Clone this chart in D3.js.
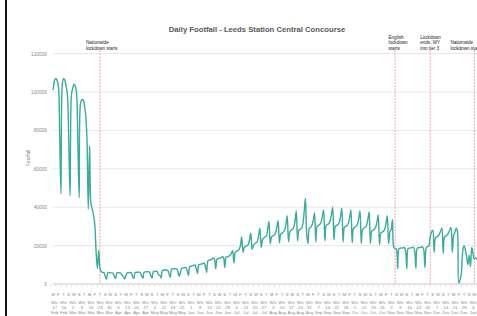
<!DOCTYPE html>
<html>
<head>
<meta charset="utf-8">
<script src="https://cdn.jsdelivr.net/npm/d3@7"></script>
<style>
  body { margin: 0; background: #fff; }
  svg { display: block; font-family: "Liberation Sans", Arial, sans-serif; }
</style>
</head>
<body>
<script>
// first day of the series (Monday 17 Feb 2020), one value per day
const startDate = new Date(2020, 1, 17);

// daily footfall, one row per week (Mon..Sun)
const footfall = [
  101000, 106000, 107000, 106000, 103000, 76000, 47000,
  104000, 107000, 106000, 103000, 98000, 73000, 46000,
  98000, 102000, 104000, 103000, 99000, 72000, 45000,
  94000, 96000, 96000, 93000, 88000, 75000, 39000,
  72000, 42000, 39000, 36000, 31000, 17000, 8000,
  17500, 8000, 6500, 6000, 6000, 4000, 2500,
  6000, 6000, 5800, 5800, 5600, 4000, 2800,
  5800, 5900, 5800, 5700, 4500, 3800, 2600,
  4500, 5800, 5900, 6000, 5800, 4000, 2800,
  6000, 6100, 6100, 6200, 6000, 4300, 3000,
  6200, 6300, 6300, 6400, 6200, 4500, 3100,
  6400, 6500, 6600, 6500, 4800, 4600, 3200,
  7000, 7200, 7400, 7300, 7200, 5400, 3600,
  7600, 7800, 7900, 8000, 7900, 6200, 4000,
  6500, 8200, 8400, 8500, 8600, 7000, 4500,
  9000, 9300, 9500, 9700, 9900, 8200, 5500,
  10000, 10200, 10400, 10600, 11000, 9500, 6000,
  12000, 12500, 12600, 12800, 13500, 13000, 8000,
  13000, 13200, 13400, 13600, 14200, 13800, 8500,
  14000, 14200, 14500, 14800, 15800, 17500, 11000,
  16500, 17000, 17500, 18000, 20000, 24500, 16500,
  19000, 19500, 20000, 20500, 23000, 26500, 18000,
  20000, 21000, 21500, 22000, 25500, 29000, 19000,
  23000, 24000, 24500, 25000, 28500, 32500, 21000,
  24500, 25000, 25500, 26500, 29500, 33000, 21500,
  26000, 26500, 27000, 28000, 31000, 35500, 22000,
  27000, 28000, 28500, 29500, 32500, 38000, 22500,
  28000, 28500, 29000, 31000, 37000, 44500, 26000,
  21000, 29000, 29500, 30500, 33000, 37000, 22000,
  30000, 30500, 31000, 32000, 35000, 38500, 22500,
  30500, 31000, 31500, 33000, 36000, 40000, 23000,
  30000, 30500, 31000, 32000, 35000, 39500, 22000,
  29500, 30000, 30500, 31500, 34500, 38500, 21500,
  29000, 29500, 30000, 31000, 34000, 38000, 21000,
  28500, 29000, 29500, 30500, 33500, 37500, 21000,
  27500, 28000, 28500, 29500, 32000, 36000, 20500,
  26500, 27000, 27500, 28500, 31500, 35500, 21000,
  27000, 28500, 33500, 19000, 18500, 18000, 8000,
  18500, 18700, 18700, 18800, 19000, 17500, 8000,
  18500, 18700, 18800, 18900, 19200, 17500, 8200,
  18700, 18900, 19000, 19100, 19500, 18000, 8500,
  19000, 19500, 20000, 24500, 27000, 28000, 16500,
  24000, 24500, 25000, 26000, 27500, 29000, 16000,
  24500, 25000, 25500, 26500, 28000, 29500, 16500,
  25000, 27000, 29000, 27000, 500, 2000, 6000,
  17000, 20000, 18000, 14000, 10000, 15000, 9000,
  19000, 15500, 13000, 13500, 13000, 11000, 6000
];

const yTicks = [0, 20000, 40000, 60000, 80000, 100000, 120000];
const dayLetters = ["M", "T", "W", "T", "F", "S", "S"];
const monthNames = ["Jan", "Feb", "Mar", "Apr", "May", "Jun", "Jul", "Aug", "Sep", "Oct", "Nov", "Dec"];

const lockdownDates = [new Date(2020, 2, 23), new Date(2020, 10, 5), new Date(2020, 11, 2), new Date(2021, 0, 5)];
const lockdownLabels = [
  ["Nationwide", "lockdown starts"],
  ["English", "lockdown", "starts"],
  ["Lockdown", "ends, WY", "into tier 3"],
  ["Nationwide", "lockdown starts"]
];

const W = 477, H = 316;
const dayPx = 1.3, left = 53.2;
const nDays = footfall.length;
const dayMs = 86400000;
const dayIndex = d => Math.round((d - startDate) / dayMs);
const dateOf = i => new Date(startDate.getTime() + i * dayMs);

const svg = d3.select("body").append("svg")
  .attr("width", W)
  .attr("height", H);

svg.append("rect").attr("width", W).attr("height", H).attr("fill", "#fff");

const x = d3.scaleLinear()
  .domain([0, nDays - 1])
  .range([left, left + dayPx * (nDays - 1)]);

const y = d3.scaleLinear()
  .domain([0, 120000])
  .range([284, 53.5]);

// gridlines
svg.append("g")
  .selectAll("line")
  .data(yTicks)
  .join("line")
    .attr("x1", 53)
    .attr("x2", W)
    .attr("y1", d => y(d))
    .attr("y2", d => y(d))
    .attr("stroke", d => d === 0 ? "#bfbfbf" : "#e3e3e3")
    .attr("stroke-width", 0.8);

// y axis labels
const yAxis = svg.append("g")
  .attr("transform", "translate(50,0)")
  .call(d3.axisLeft(y).tickValues(yTicks).tickSize(0).tickFormat(d3.format("d")));
yAxis.select(".domain").remove();
yAxis.selectAll("text")
  .attr("fill", "#8a8a8a")
  .style("font-size", "4.8px");

svg.append("text")
  .attr("transform", "translate(29.5,158) rotate(-90)")
  .attr("text-anchor", "middle")
  .attr("fill", "#7a7a7a")
  .style("font-size", "5px")
  .text("Footfall");

// title
svg.append("text")
  .attr("x", 257)
  .attr("y", 31.5)
  .attr("text-anchor", "middle")
  .attr("fill", "#595959")
  .style("font-size", "7.7px")
  .style("font-weight", "bold")
  .text("Daily Footfall - Leeds Station Central Concourse");

// x axis: tick marks and day letters every 4 days, week labels every Monday
const dayTicks = d3.range(0, nDays, 4);
svg.append("g")
  .selectAll("line")
  .data(dayTicks)
  .join("line")
    .attr("x1", d => x(d) - 2.6)
    .attr("x2", d => x(d) - 2.6)
    .attr("y1", 284)
    .attr("y2", 287)
    .attr("stroke", "#d0d0d0")
    .attr("stroke-width", 0.6);

svg.append("g")
  .selectAll("text")
  .data(dayTicks)
  .join("text")
    .attr("x", d => x(d))
    .attr("y", 296)
    .attr("text-anchor", "middle")
    .attr("fill", "#8a8a8a")
    .style("font-size", "4.3px")
    .text(d => dayLetters[(dateOf(d).getDay() + 6) % 7]);

const weekStarts = d3.range(0, nDays, 7);
const weekLbl = svg.append("g")
  .selectAll("text")
  .data(weekStarts)
  .join("text")
    .attr("text-anchor", "middle")
    .attr("fill", "#8a8a8a")
    .style("font-size", "4.3px");
weekLbl.append("tspan").attr("x", d => x(d) + 1.5).attr("y", 304).text("W/c");
weekLbl.append("tspan").attr("x", d => x(d) + 1.5).attr("y", 309).text(d => dateOf(d).getDate());
weekLbl.append("tspan").attr("x", d => x(d) + 1.5).attr("y", 314).text(d => monthNames[dateOf(d).getMonth()]);

// lockdown markers, drawn at the close of the day; labels left-aligned
const labelShift = [-14, -6.6, -10, -24];
const marks = svg.append("g")
  .selectAll("g")
  .data(lockdownDates)
  .join("g");
marks.append("line")
  .attr("x1", d => x(dayIndex(d) + 1))
  .attr("x2", d => x(dayIndex(d) + 1))
  .attr("y1", 50)
  .attr("y2", 284)
  .attr("stroke", "#e88a8a")
  .attr("stroke-width", 0.8)
  .attr("stroke-dasharray", "2,1.2");
marks.each(function(d, i) {
  const lines = lockdownLabels[i];
  const t = d3.select(this).append("text")
    .attr("text-anchor", "start")
    .attr("fill", "#1a1a1a")
    .style("font-size", "4.6px");
  lines.forEach((s, j) => {
    t.append("tspan")
      .attr("x", x(dayIndex(d) + 1) + labelShift[i])
      .attr("y", 49.5 - (lines.length - 1 - j) * 5.4)
      .text(s);
  });
});

// footfall line
const line = d3.line()
  .x((d, i) => x(i))
  .y(d => y(d))
  .curve(d3.curveCatmullRom.alpha(0.5));

svg.append("path")
  .datum(footfall)
  .attr("d", line)
  .attr("fill", "none")
  .attr("stroke", "#3aab9d")
  .attr("stroke-width", 1.4)
  .attr("stroke-linejoin", "round");

// left frame edge
svg.append("rect")
  .attr("x", 5)
  .attr("y", 0)
  .attr("width", 2)
  .attr("height", H)
  .attr("fill", "#111");
</script>
</body>
</html>
